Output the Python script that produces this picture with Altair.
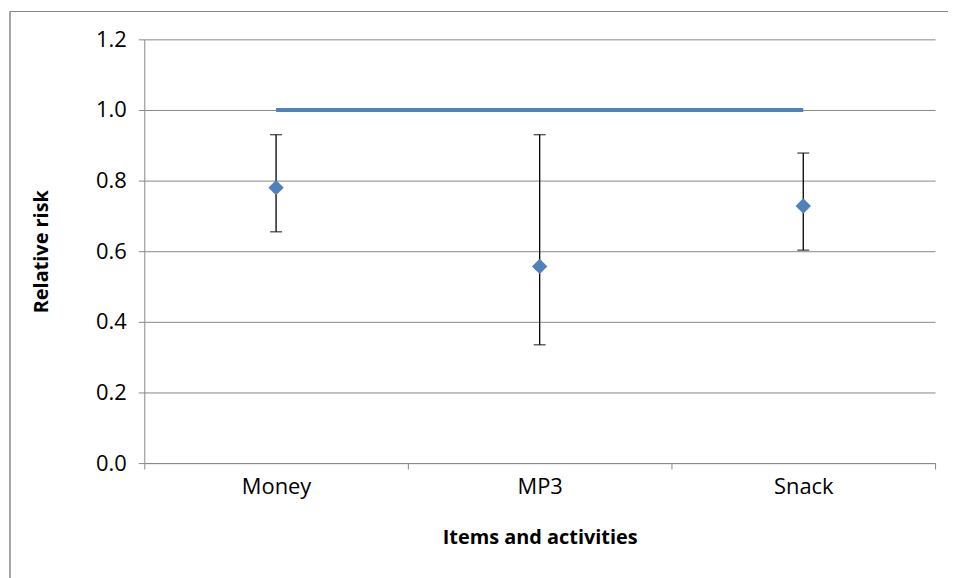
import altair as alt
import pandas as pd

items = ["Money", "MP3", "Snack"]
rr = [0.78, 0.557, 0.728]
lower = [0.655, 0.335, 0.603]
upper = [0.93, 0.93, 0.878]
ref_items = ["Money", "Snack"]
ref_values = [1.0, 1.0]

df = pd.DataFrame({"item": items, "rr": rr, "lo": lower, "hi": upper})
ref = pd.DataFrame({"item": ref_items, "v": ref_values})

font = "Open Sans"
xs = alt.X("item:N", sort=items, title="Items and activities",
           scale=alt.Scale(paddingInner=0, paddingOuter=0),
           axis=alt.Axis(labelAngle=0, tickBand="extent", labelFontSize=22, titleFontSize=20,
                         labelFont=font, titleFont=font, titleFontWeight="bold", labelColor="black",
                         titleColor="black", domainColor="#888", tickColor="#888", tickSize=6,
                         labelPadding=8, titlePadding=30, grid=False))
ys = alt.Y("rr:Q", title="Relative risk", scale=alt.Scale(domain=[0, 1.2]),
           axis=alt.Axis(values=[0, 0.2, 0.4, 0.6, 0.8, 1.0, 1.2], format=".1f", labelFontSize=22,
                         titleFontSize=20, labelFont=font, titleFont=font, titleFontWeight="bold",
                         labelColor="black", titleColor="black", domainColor="#888", tickColor="#888",
                         gridColor="#888", tickSize=6, labelPadding=12, titlePadding=44))

base = alt.Chart(df)
line = alt.Chart(ref).mark_line(color="#4F81BD", strokeWidth=4).encode(x=xs, y=alt.Y("v:Q"))
bars = base.mark_rule(color="black", strokeWidth=1.3).encode(x=xs, y=alt.Y("lo:Q"), y2="hi:Q")
caps_lo = base.mark_tick(color="black", thickness=1.3, size=12, orient="horizontal").encode(x=xs, y="lo:Q")
caps_hi = base.mark_tick(color="black", thickness=1.3, size=12, orient="horizontal").encode(x=xs, y="hi:Q")
pts = base.mark_point(shape="diamond", filled=True, size=240, color="#4F81BD", opacity=1).encode(x=xs, y=ys)
frame = alt.Chart(ref).mark_rect(fill=None, stroke="#888", strokeWidth=1, clip=False).encode(
    x=alt.value(-135), x2=alt.value(812), y=alt.value(-28), y2=alt.value(545))

chart = alt.layer(frame, line, bars, caps_lo, caps_hi, pts).properties(
    width=795, height=426, autosize=alt.AutoSizeParams(type="none"),
    padding={"left": 137, "top": 30, "right": 13, "bottom": 114}
).configure_view(stroke=None)

chart.save("out.html", embed_options={"renderer": "svg", "actions": False})
